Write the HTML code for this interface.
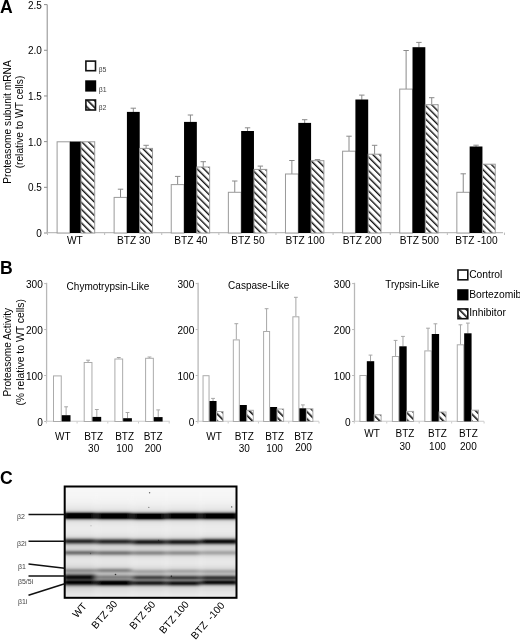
<!DOCTYPE html>
<html><head><meta charset="utf-8"><style>
html,body{margin:0;padding:0;background:#fff;}
svg{display:block;font-family:"Liberation Sans", sans-serif;will-change:transform;}
</style></head><body>
<svg width="520" height="643" viewBox="0 0 520 643" font-family='"Liberation Sans", sans-serif' fill="#000">
<defs>
<pattern id="hatchA" patternUnits="userSpaceOnUse" width="4.8" height="4.8" patternTransform="rotate(-45)">
<rect width="4.8" height="4.8" fill="#fff"/><rect x="0" y="0" width="1.4" height="4.8" fill="#111"/></pattern>
<pattern id="hatchB" patternUnits="userSpaceOnUse" width="5" height="5" patternTransform="rotate(-45)">
<rect width="5" height="5" fill="#fff"/><rect x="0" y="0" width="1.6" height="5" fill="#111"/></pattern>
<pattern id="hatchL" patternUnits="userSpaceOnUse" width="5" height="5" patternTransform="rotate(-45)">
<rect width="5" height="5" fill="#fff"/><rect x="0" y="0" width="1.6" height="5" fill="#111"/></pattern>
<filter id="blur" x="-5%" y="-5%" width="110%" height="110%"><feGaussianBlur stdDeviation="2.4 0.4"/></filter><clipPath id="boxclip"><rect x="64.7" y="486.5" width="171.8" height="111.29999999999995"/></clipPath><linearGradient id="lane0" x1="0" y1="486.5" x2="0" y2="598.5" gradientUnits="userSpaceOnUse"><stop offset="0.0000" stop-color="#f8f8f8"/><stop offset="0.0089" stop-color="#f8f8f8"/><stop offset="0.0179" stop-color="#f7f7f7"/><stop offset="0.0268" stop-color="#f7f7f7"/><stop offset="0.0357" stop-color="#f7f7f7"/><stop offset="0.0446" stop-color="#f7f7f7"/><stop offset="0.0536" stop-color="#f6f6f6"/><stop offset="0.0625" stop-color="#f6f6f6"/><stop offset="0.0714" stop-color="#f6f6f6"/><stop offset="0.0804" stop-color="#f6f6f6"/><stop offset="0.0893" stop-color="#f5f5f5"/><stop offset="0.0982" stop-color="#f5f5f5"/><stop offset="0.1071" stop-color="#f4f4f4"/><stop offset="0.1161" stop-color="#f3f3f3"/><stop offset="0.1250" stop-color="#f3f3f3"/><stop offset="0.1339" stop-color="#f2f2f2"/><stop offset="0.1429" stop-color="#f1f1f1"/><stop offset="0.1518" stop-color="#efefef"/><stop offset="0.1607" stop-color="#eeeeee"/><stop offset="0.1696" stop-color="#ececec"/><stop offset="0.1786" stop-color="#eaeaea"/><stop offset="0.1875" stop-color="#e8e8e8"/><stop offset="0.1964" stop-color="#e5e5e5"/><stop offset="0.2054" stop-color="#e0e0e0"/><stop offset="0.2143" stop-color="#d3d3d3"/><stop offset="0.2232" stop-color="#b3b3b3"/><stop offset="0.2321" stop-color="#747474"/><stop offset="0.2411" stop-color="#141414"/><stop offset="0.2500" stop-color="#000000"/><stop offset="0.2589" stop-color="#000000"/><stop offset="0.2679" stop-color="#000000"/><stop offset="0.2768" stop-color="#000000"/><stop offset="0.2857" stop-color="#3d3d3d"/><stop offset="0.2946" stop-color="#919191"/><stop offset="0.3036" stop-color="#c3c3c3"/><stop offset="0.3125" stop-color="#d9d9d9"/><stop offset="0.3214" stop-color="#e2e2e2"/><stop offset="0.3304" stop-color="#e6e6e6"/><stop offset="0.3393" stop-color="#e8e8e8"/><stop offset="0.3482" stop-color="#e9e9e9"/><stop offset="0.3571" stop-color="#eaeaea"/><stop offset="0.3661" stop-color="#ebebeb"/><stop offset="0.3750" stop-color="#ebebeb"/><stop offset="0.3839" stop-color="#ebebeb"/><stop offset="0.3929" stop-color="#eaeaea"/><stop offset="0.4018" stop-color="#e9e9e9"/><stop offset="0.4107" stop-color="#e8e8e8"/><stop offset="0.4196" stop-color="#e7e7e7"/><stop offset="0.4286" stop-color="#e4e4e4"/><stop offset="0.4375" stop-color="#e0e0e0"/><stop offset="0.4464" stop-color="#d7d7d7"/><stop offset="0.4554" stop-color="#c2c2c2"/><stop offset="0.4643" stop-color="#9b9b9b"/><stop offset="0.4732" stop-color="#666666"/><stop offset="0.4821" stop-color="#393939"/><stop offset="0.4911" stop-color="#2c2c2c"/><stop offset="0.5000" stop-color="#484848"/><stop offset="0.5089" stop-color="#7a7a7a"/><stop offset="0.5179" stop-color="#a8a8a8"/><stop offset="0.5268" stop-color="#c5c5c5"/><stop offset="0.5357" stop-color="#d1d1d1"/><stop offset="0.5446" stop-color="#d5d5d5"/><stop offset="0.5536" stop-color="#d2d2d2"/><stop offset="0.5625" stop-color="#c7c7c7"/><stop offset="0.5714" stop-color="#aeaeae"/><stop offset="0.5804" stop-color="#8b8b8b"/><stop offset="0.5893" stop-color="#737373"/><stop offset="0.5982" stop-color="#7b7b7b"/><stop offset="0.6071" stop-color="#9c9c9c"/><stop offset="0.6161" stop-color="#bfbfbf"/><stop offset="0.6250" stop-color="#d5d5d5"/><stop offset="0.6339" stop-color="#dedede"/><stop offset="0.6429" stop-color="#e2e2e2"/><stop offset="0.6518" stop-color="#e4e4e4"/><stop offset="0.6607" stop-color="#e5e5e5"/><stop offset="0.6696" stop-color="#e5e5e5"/><stop offset="0.6786" stop-color="#e4e4e4"/><stop offset="0.6875" stop-color="#e2e2e2"/><stop offset="0.6964" stop-color="#e0e0e0"/><stop offset="0.7054" stop-color="#dcdcdc"/><stop offset="0.7143" stop-color="#d7d7d7"/><stop offset="0.7232" stop-color="#cecece"/><stop offset="0.7321" stop-color="#bbbbbb"/><stop offset="0.7411" stop-color="#a2a2a2"/><stop offset="0.7500" stop-color="#929292"/><stop offset="0.7589" stop-color="#969696"/><stop offset="0.7679" stop-color="#9f9f9f"/><stop offset="0.7768" stop-color="#959595"/><stop offset="0.7857" stop-color="#717171"/><stop offset="0.7946" stop-color="#3f3f3f"/><stop offset="0.8036" stop-color="#151515"/><stop offset="0.8125" stop-color="#0a0a0a"/><stop offset="0.8214" stop-color="#1d1d1d"/><stop offset="0.8304" stop-color="#333333"/><stop offset="0.8393" stop-color="#2e2e2e"/><stop offset="0.8482" stop-color="#111111"/><stop offset="0.8571" stop-color="#000000"/><stop offset="0.8661" stop-color="#141414"/><stop offset="0.8750" stop-color="#464646"/><stop offset="0.8839" stop-color="#808080"/><stop offset="0.8929" stop-color="#adadad"/><stop offset="0.9018" stop-color="#c7c7c7"/><stop offset="0.9107" stop-color="#d3d3d3"/><stop offset="0.9196" stop-color="#d8d8d8"/><stop offset="0.9286" stop-color="#dbdbdb"/><stop offset="0.9375" stop-color="#dedede"/><stop offset="0.9464" stop-color="#e0e0e0"/><stop offset="0.9554" stop-color="#e3e3e3"/><stop offset="0.9643" stop-color="#e4e4e4"/><stop offset="0.9732" stop-color="#e6e6e6"/><stop offset="0.9821" stop-color="#e7e7e7"/><stop offset="0.9911" stop-color="#e8e8e8"/><stop offset="1.0000" stop-color="#e9e9e9"/></linearGradient><linearGradient id="lane1" x1="0" y1="486.5" x2="0" y2="598.5" gradientUnits="userSpaceOnUse"><stop offset="0.0000" stop-color="#f8f8f8"/><stop offset="0.0089" stop-color="#f8f8f8"/><stop offset="0.0179" stop-color="#f7f7f7"/><stop offset="0.0268" stop-color="#f7f7f7"/><stop offset="0.0357" stop-color="#f7f7f7"/><stop offset="0.0446" stop-color="#f7f7f7"/><stop offset="0.0536" stop-color="#f6f6f6"/><stop offset="0.0625" stop-color="#f6f6f6"/><stop offset="0.0714" stop-color="#f6f6f6"/><stop offset="0.0804" stop-color="#f6f6f6"/><stop offset="0.0893" stop-color="#f5f5f5"/><stop offset="0.0982" stop-color="#f5f5f5"/><stop offset="0.1071" stop-color="#f4f4f4"/><stop offset="0.1161" stop-color="#f4f4f4"/><stop offset="0.1250" stop-color="#f3f3f3"/><stop offset="0.1339" stop-color="#f2f2f2"/><stop offset="0.1429" stop-color="#f1f1f1"/><stop offset="0.1518" stop-color="#f0f0f0"/><stop offset="0.1607" stop-color="#eeeeee"/><stop offset="0.1696" stop-color="#ececec"/><stop offset="0.1786" stop-color="#ebebeb"/><stop offset="0.1875" stop-color="#e9e9e9"/><stop offset="0.1964" stop-color="#e6e6e6"/><stop offset="0.2054" stop-color="#e1e1e1"/><stop offset="0.2143" stop-color="#d7d7d7"/><stop offset="0.2232" stop-color="#bbbbbb"/><stop offset="0.2321" stop-color="#838383"/><stop offset="0.2411" stop-color="#292929"/><stop offset="0.2500" stop-color="#000000"/><stop offset="0.2589" stop-color="#000000"/><stop offset="0.2679" stop-color="#000000"/><stop offset="0.2768" stop-color="#000000"/><stop offset="0.2857" stop-color="#292929"/><stop offset="0.2946" stop-color="#838383"/><stop offset="0.3036" stop-color="#bbbbbb"/><stop offset="0.3125" stop-color="#d6d6d6"/><stop offset="0.3214" stop-color="#e1e1e1"/><stop offset="0.3304" stop-color="#e5e5e5"/><stop offset="0.3393" stop-color="#e7e7e7"/><stop offset="0.3482" stop-color="#e9e9e9"/><stop offset="0.3571" stop-color="#eaeaea"/><stop offset="0.3661" stop-color="#ebebeb"/><stop offset="0.3750" stop-color="#ebebeb"/><stop offset="0.3839" stop-color="#ebebeb"/><stop offset="0.3929" stop-color="#ebebeb"/><stop offset="0.4018" stop-color="#eaeaea"/><stop offset="0.4107" stop-color="#e9e9e9"/><stop offset="0.4196" stop-color="#e7e7e7"/><stop offset="0.4286" stop-color="#e5e5e5"/><stop offset="0.4375" stop-color="#e2e2e2"/><stop offset="0.4464" stop-color="#dbdbdb"/><stop offset="0.4554" stop-color="#cacaca"/><stop offset="0.4643" stop-color="#a9a9a9"/><stop offset="0.4732" stop-color="#777777"/><stop offset="0.4821" stop-color="#444444"/><stop offset="0.4911" stop-color="#2b2b2b"/><stop offset="0.5000" stop-color="#3c3c3c"/><stop offset="0.5089" stop-color="#6a6a6a"/><stop offset="0.5179" stop-color="#9c9c9c"/><stop offset="0.5268" stop-color="#bebebe"/><stop offset="0.5357" stop-color="#cfcfcf"/><stop offset="0.5446" stop-color="#d4d4d4"/><stop offset="0.5536" stop-color="#d3d3d3"/><stop offset="0.5625" stop-color="#cbcbcb"/><stop offset="0.5714" stop-color="#b6b6b6"/><stop offset="0.5804" stop-color="#979797"/><stop offset="0.5893" stop-color="#7d7d7d"/><stop offset="0.5982" stop-color="#7d7d7d"/><stop offset="0.6071" stop-color="#999999"/><stop offset="0.6161" stop-color="#bbbbbb"/><stop offset="0.6250" stop-color="#d2d2d2"/><stop offset="0.6339" stop-color="#dddddd"/><stop offset="0.6429" stop-color="#e2e2e2"/><stop offset="0.6518" stop-color="#e4e4e4"/><stop offset="0.6607" stop-color="#e5e5e5"/><stop offset="0.6696" stop-color="#e5e5e5"/><stop offset="0.6786" stop-color="#e5e5e5"/><stop offset="0.6875" stop-color="#e4e4e4"/><stop offset="0.6964" stop-color="#e2e2e2"/><stop offset="0.7054" stop-color="#dfdfdf"/><stop offset="0.7143" stop-color="#d9d9d9"/><stop offset="0.7232" stop-color="#cccccc"/><stop offset="0.7321" stop-color="#b4b4b4"/><stop offset="0.7411" stop-color="#979797"/><stop offset="0.7500" stop-color="#888888"/><stop offset="0.7589" stop-color="#939393"/><stop offset="0.7679" stop-color="#a9a9a9"/><stop offset="0.7768" stop-color="#b7b7b7"/><stop offset="0.7857" stop-color="#b1b1b1"/><stop offset="0.7946" stop-color="#9d9d9d"/><stop offset="0.8036" stop-color="#878787"/><stop offset="0.8125" stop-color="#808080"/><stop offset="0.8214" stop-color="#868686"/><stop offset="0.8304" stop-color="#7f7f7f"/><stop offset="0.8393" stop-color="#575757"/><stop offset="0.8482" stop-color="#181818"/><stop offset="0.8571" stop-color="#000000"/><stop offset="0.8661" stop-color="#000000"/><stop offset="0.8750" stop-color="#272727"/><stop offset="0.8839" stop-color="#6f6f6f"/><stop offset="0.8929" stop-color="#a9a9a9"/><stop offset="0.9018" stop-color="#c9c9c9"/><stop offset="0.9107" stop-color="#d7d7d7"/><stop offset="0.9196" stop-color="#dcdcdc"/><stop offset="0.9286" stop-color="#dfdfdf"/><stop offset="0.9375" stop-color="#e1e1e1"/><stop offset="0.9464" stop-color="#e3e3e3"/><stop offset="0.9554" stop-color="#e5e5e5"/><stop offset="0.9643" stop-color="#e7e7e7"/><stop offset="0.9732" stop-color="#e8e8e8"/><stop offset="0.9821" stop-color="#e9e9e9"/><stop offset="0.9911" stop-color="#eaeaea"/><stop offset="1.0000" stop-color="#eaeaea"/></linearGradient><linearGradient id="lane2" x1="0" y1="486.5" x2="0" y2="598.5" gradientUnits="userSpaceOnUse"><stop offset="0.0000" stop-color="#f8f8f8"/><stop offset="0.0089" stop-color="#f8f8f8"/><stop offset="0.0179" stop-color="#f7f7f7"/><stop offset="0.0268" stop-color="#f7f7f7"/><stop offset="0.0357" stop-color="#f7f7f7"/><stop offset="0.0446" stop-color="#f7f7f7"/><stop offset="0.0536" stop-color="#f6f6f6"/><stop offset="0.0625" stop-color="#f6f6f6"/><stop offset="0.0714" stop-color="#f6f6f6"/><stop offset="0.0804" stop-color="#f6f6f6"/><stop offset="0.0893" stop-color="#f5f5f5"/><stop offset="0.0982" stop-color="#f5f5f5"/><stop offset="0.1071" stop-color="#f4f4f4"/><stop offset="0.1161" stop-color="#f4f4f4"/><stop offset="0.1250" stop-color="#f3f3f3"/><stop offset="0.1339" stop-color="#f2f2f2"/><stop offset="0.1429" stop-color="#f1f1f1"/><stop offset="0.1518" stop-color="#f0f0f0"/><stop offset="0.1607" stop-color="#efefef"/><stop offset="0.1696" stop-color="#ededed"/><stop offset="0.1786" stop-color="#ebebeb"/><stop offset="0.1875" stop-color="#e9e9e9"/><stop offset="0.1964" stop-color="#e7e7e7"/><stop offset="0.2054" stop-color="#e3e3e3"/><stop offset="0.2143" stop-color="#dbdbdb"/><stop offset="0.2232" stop-color="#c7c7c7"/><stop offset="0.2321" stop-color="#9b9b9b"/><stop offset="0.2411" stop-color="#4e4e4e"/><stop offset="0.2500" stop-color="#000000"/><stop offset="0.2589" stop-color="#000000"/><stop offset="0.2679" stop-color="#000000"/><stop offset="0.2768" stop-color="#000000"/><stop offset="0.2857" stop-color="#141414"/><stop offset="0.2946" stop-color="#717171"/><stop offset="0.3036" stop-color="#b1b1b1"/><stop offset="0.3125" stop-color="#d1d1d1"/><stop offset="0.3214" stop-color="#dfdfdf"/><stop offset="0.3304" stop-color="#e4e4e4"/><stop offset="0.3393" stop-color="#e7e7e7"/><stop offset="0.3482" stop-color="#e8e8e8"/><stop offset="0.3571" stop-color="#eaeaea"/><stop offset="0.3661" stop-color="#eaeaea"/><stop offset="0.3750" stop-color="#ebebeb"/><stop offset="0.3839" stop-color="#ebebeb"/><stop offset="0.3929" stop-color="#ebebeb"/><stop offset="0.4018" stop-color="#eaeaea"/><stop offset="0.4107" stop-color="#e9e9e9"/><stop offset="0.4196" stop-color="#e8e8e8"/><stop offset="0.4286" stop-color="#e6e6e6"/><stop offset="0.4375" stop-color="#e3e3e3"/><stop offset="0.4464" stop-color="#dedede"/><stop offset="0.4554" stop-color="#d1d1d1"/><stop offset="0.4643" stop-color="#b5b5b5"/><stop offset="0.4732" stop-color="#868686"/><stop offset="0.4821" stop-color="#4d4d4d"/><stop offset="0.4911" stop-color="#242424"/><stop offset="0.5000" stop-color="#242424"/><stop offset="0.5089" stop-color="#4c4c4c"/><stop offset="0.5179" stop-color="#838383"/><stop offset="0.5268" stop-color="#afafaf"/><stop offset="0.5357" stop-color="#c8c8c8"/><stop offset="0.5446" stop-color="#d2d2d2"/><stop offset="0.5536" stop-color="#d3d3d3"/><stop offset="0.5625" stop-color="#cccccc"/><stop offset="0.5714" stop-color="#bcbcbc"/><stop offset="0.5804" stop-color="#a2a2a2"/><stop offset="0.5893" stop-color="#8d8d8d"/><stop offset="0.5982" stop-color="#8e8e8e"/><stop offset="0.6071" stop-color="#a5a5a5"/><stop offset="0.6161" stop-color="#c1c1c1"/><stop offset="0.6250" stop-color="#d5d5d5"/><stop offset="0.6339" stop-color="#dedede"/><stop offset="0.6429" stop-color="#e3e3e3"/><stop offset="0.6518" stop-color="#e5e5e5"/><stop offset="0.6607" stop-color="#e7e7e7"/><stop offset="0.6696" stop-color="#e8e8e8"/><stop offset="0.6786" stop-color="#e8e8e8"/><stop offset="0.6875" stop-color="#e7e7e7"/><stop offset="0.6964" stop-color="#e6e6e6"/><stop offset="0.7054" stop-color="#e3e3e3"/><stop offset="0.7143" stop-color="#e0e0e0"/><stop offset="0.7232" stop-color="#dbdbdb"/><stop offset="0.7321" stop-color="#d3d3d3"/><stop offset="0.7411" stop-color="#c4c4c4"/><stop offset="0.7500" stop-color="#b1b1b1"/><stop offset="0.7589" stop-color="#a6a6a6"/><stop offset="0.7679" stop-color="#aaaaaa"/><stop offset="0.7768" stop-color="#b2b2b2"/><stop offset="0.7857" stop-color="#aaaaaa"/><stop offset="0.7946" stop-color="#898989"/><stop offset="0.8036" stop-color="#5d5d5d"/><stop offset="0.8125" stop-color="#454545"/><stop offset="0.8214" stop-color="#525252"/><stop offset="0.8304" stop-color="#6d6d6d"/><stop offset="0.8393" stop-color="#6c6c6c"/><stop offset="0.8482" stop-color="#474747"/><stop offset="0.8571" stop-color="#212121"/><stop offset="0.8661" stop-color="#222222"/><stop offset="0.8750" stop-color="#4d4d4d"/><stop offset="0.8839" stop-color="#888888"/><stop offset="0.8929" stop-color="#b6b6b6"/><stop offset="0.9018" stop-color="#cfcfcf"/><stop offset="0.9107" stop-color="#d9d9d9"/><stop offset="0.9196" stop-color="#dddddd"/><stop offset="0.9286" stop-color="#dfdfdf"/><stop offset="0.9375" stop-color="#e2e2e2"/><stop offset="0.9464" stop-color="#e4e4e4"/><stop offset="0.9554" stop-color="#e6e6e6"/><stop offset="0.9643" stop-color="#e7e7e7"/><stop offset="0.9732" stop-color="#e8e8e8"/><stop offset="0.9821" stop-color="#e9e9e9"/><stop offset="0.9911" stop-color="#eaeaea"/><stop offset="1.0000" stop-color="#eaeaea"/></linearGradient><linearGradient id="lane3" x1="0" y1="486.5" x2="0" y2="598.5" gradientUnits="userSpaceOnUse"><stop offset="0.0000" stop-color="#f8f8f8"/><stop offset="0.0089" stop-color="#f8f8f8"/><stop offset="0.0179" stop-color="#f7f7f7"/><stop offset="0.0268" stop-color="#f7f7f7"/><stop offset="0.0357" stop-color="#f7f7f7"/><stop offset="0.0446" stop-color="#f7f7f7"/><stop offset="0.0536" stop-color="#f6f6f6"/><stop offset="0.0625" stop-color="#f6f6f6"/><stop offset="0.0714" stop-color="#f6f6f6"/><stop offset="0.0804" stop-color="#f6f6f6"/><stop offset="0.0893" stop-color="#f5f5f5"/><stop offset="0.0982" stop-color="#f5f5f5"/><stop offset="0.1071" stop-color="#f4f4f4"/><stop offset="0.1161" stop-color="#f4f4f4"/><stop offset="0.1250" stop-color="#f3f3f3"/><stop offset="0.1339" stop-color="#f2f2f2"/><stop offset="0.1429" stop-color="#f1f1f1"/><stop offset="0.1518" stop-color="#f0f0f0"/><stop offset="0.1607" stop-color="#eeeeee"/><stop offset="0.1696" stop-color="#ececec"/><stop offset="0.1786" stop-color="#ebebeb"/><stop offset="0.1875" stop-color="#e9e9e9"/><stop offset="0.1964" stop-color="#e6e6e6"/><stop offset="0.2054" stop-color="#e2e2e2"/><stop offset="0.2143" stop-color="#d7d7d7"/><stop offset="0.2232" stop-color="#bdbdbd"/><stop offset="0.2321" stop-color="#888888"/><stop offset="0.2411" stop-color="#323232"/><stop offset="0.2500" stop-color="#000000"/><stop offset="0.2589" stop-color="#000000"/><stop offset="0.2679" stop-color="#000000"/><stop offset="0.2768" stop-color="#000000"/><stop offset="0.2857" stop-color="#323232"/><stop offset="0.2946" stop-color="#888888"/><stop offset="0.3036" stop-color="#bdbdbd"/><stop offset="0.3125" stop-color="#d7d7d7"/><stop offset="0.3214" stop-color="#e1e1e1"/><stop offset="0.3304" stop-color="#e5e5e5"/><stop offset="0.3393" stop-color="#e7e7e7"/><stop offset="0.3482" stop-color="#e9e9e9"/><stop offset="0.3571" stop-color="#eaeaea"/><stop offset="0.3661" stop-color="#ebebeb"/><stop offset="0.3750" stop-color="#ebebeb"/><stop offset="0.3839" stop-color="#ebebeb"/><stop offset="0.3929" stop-color="#ebebeb"/><stop offset="0.4018" stop-color="#eaeaea"/><stop offset="0.4107" stop-color="#e9e9e9"/><stop offset="0.4196" stop-color="#e8e8e8"/><stop offset="0.4286" stop-color="#e6e6e6"/><stop offset="0.4375" stop-color="#e3e3e3"/><stop offset="0.4464" stop-color="#dedede"/><stop offset="0.4554" stop-color="#d1d1d1"/><stop offset="0.4643" stop-color="#b5b5b5"/><stop offset="0.4732" stop-color="#858585"/><stop offset="0.4821" stop-color="#4c4c4c"/><stop offset="0.4911" stop-color="#232323"/><stop offset="0.5000" stop-color="#222222"/><stop offset="0.5089" stop-color="#4b4b4b"/><stop offset="0.5179" stop-color="#828282"/><stop offset="0.5268" stop-color="#afafaf"/><stop offset="0.5357" stop-color="#c8c8c8"/><stop offset="0.5446" stop-color="#d2d2d2"/><stop offset="0.5536" stop-color="#d3d3d3"/><stop offset="0.5625" stop-color="#cdcdcd"/><stop offset="0.5714" stop-color="#bebebe"/><stop offset="0.5804" stop-color="#a7a7a7"/><stop offset="0.5893" stop-color="#949494"/><stop offset="0.5982" stop-color="#959595"/><stop offset="0.6071" stop-color="#aaaaaa"/><stop offset="0.6161" stop-color="#c4c4c4"/><stop offset="0.6250" stop-color="#d6d6d6"/><stop offset="0.6339" stop-color="#dfdfdf"/><stop offset="0.6429" stop-color="#e3e3e3"/><stop offset="0.6518" stop-color="#e5e5e5"/><stop offset="0.6607" stop-color="#e6e6e6"/><stop offset="0.6696" stop-color="#e7e7e7"/><stop offset="0.6786" stop-color="#e7e7e7"/><stop offset="0.6875" stop-color="#e7e7e7"/><stop offset="0.6964" stop-color="#e5e5e5"/><stop offset="0.7054" stop-color="#e3e3e3"/><stop offset="0.7143" stop-color="#dfdfdf"/><stop offset="0.7232" stop-color="#dadada"/><stop offset="0.7321" stop-color="#d0d0d0"/><stop offset="0.7411" stop-color="#bfbfbf"/><stop offset="0.7500" stop-color="#adadad"/><stop offset="0.7589" stop-color="#a7a7a7"/><stop offset="0.7679" stop-color="#b0b0b0"/><stop offset="0.7768" stop-color="#b9b9b9"/><stop offset="0.7857" stop-color="#b1b1b1"/><stop offset="0.7946" stop-color="#919191"/><stop offset="0.8036" stop-color="#636363"/><stop offset="0.8125" stop-color="#434343"/><stop offset="0.8214" stop-color="#494949"/><stop offset="0.8304" stop-color="#676767"/><stop offset="0.8393" stop-color="#6e6e6e"/><stop offset="0.8482" stop-color="#4b4b4b"/><stop offset="0.8571" stop-color="#202020"/><stop offset="0.8661" stop-color="#171717"/><stop offset="0.8750" stop-color="#3c3c3c"/><stop offset="0.8839" stop-color="#797979"/><stop offset="0.8929" stop-color="#adadad"/><stop offset="0.9018" stop-color="#cbcbcb"/><stop offset="0.9107" stop-color="#d7d7d7"/><stop offset="0.9196" stop-color="#dcdcdc"/><stop offset="0.9286" stop-color="#dfdfdf"/><stop offset="0.9375" stop-color="#e1e1e1"/><stop offset="0.9464" stop-color="#e3e3e3"/><stop offset="0.9554" stop-color="#e5e5e5"/><stop offset="0.9643" stop-color="#e7e7e7"/><stop offset="0.9732" stop-color="#e8e8e8"/><stop offset="0.9821" stop-color="#e9e9e9"/><stop offset="0.9911" stop-color="#eaeaea"/><stop offset="1.0000" stop-color="#eaeaea"/></linearGradient><linearGradient id="lane4" x1="0" y1="486.5" x2="0" y2="598.5" gradientUnits="userSpaceOnUse"><stop offset="0.0000" stop-color="#f8f8f8"/><stop offset="0.0089" stop-color="#f8f8f8"/><stop offset="0.0179" stop-color="#f7f7f7"/><stop offset="0.0268" stop-color="#f7f7f7"/><stop offset="0.0357" stop-color="#f7f7f7"/><stop offset="0.0446" stop-color="#f7f7f7"/><stop offset="0.0536" stop-color="#f6f6f6"/><stop offset="0.0625" stop-color="#f6f6f6"/><stop offset="0.0714" stop-color="#f6f6f6"/><stop offset="0.0804" stop-color="#f6f6f6"/><stop offset="0.0893" stop-color="#f5f5f5"/><stop offset="0.0982" stop-color="#f5f5f5"/><stop offset="0.1071" stop-color="#f4f4f4"/><stop offset="0.1161" stop-color="#f4f4f4"/><stop offset="0.1250" stop-color="#f3f3f3"/><stop offset="0.1339" stop-color="#f2f2f2"/><stop offset="0.1429" stop-color="#f1f1f1"/><stop offset="0.1518" stop-color="#f0f0f0"/><stop offset="0.1607" stop-color="#eeeeee"/><stop offset="0.1696" stop-color="#ececec"/><stop offset="0.1786" stop-color="#ebebeb"/><stop offset="0.1875" stop-color="#e9e9e9"/><stop offset="0.1964" stop-color="#e6e6e6"/><stop offset="0.2054" stop-color="#e2e2e2"/><stop offset="0.2143" stop-color="#d7d7d7"/><stop offset="0.2232" stop-color="#bdbdbd"/><stop offset="0.2321" stop-color="#888888"/><stop offset="0.2411" stop-color="#323232"/><stop offset="0.2500" stop-color="#000000"/><stop offset="0.2589" stop-color="#000000"/><stop offset="0.2679" stop-color="#000000"/><stop offset="0.2768" stop-color="#000000"/><stop offset="0.2857" stop-color="#323232"/><stop offset="0.2946" stop-color="#888888"/><stop offset="0.3036" stop-color="#bdbdbd"/><stop offset="0.3125" stop-color="#d7d7d7"/><stop offset="0.3214" stop-color="#e1e1e1"/><stop offset="0.3304" stop-color="#e5e5e5"/><stop offset="0.3393" stop-color="#e7e7e7"/><stop offset="0.3482" stop-color="#e9e9e9"/><stop offset="0.3571" stop-color="#eaeaea"/><stop offset="0.3661" stop-color="#eaeaea"/><stop offset="0.3750" stop-color="#ebebeb"/><stop offset="0.3839" stop-color="#ebebeb"/><stop offset="0.3929" stop-color="#eaeaea"/><stop offset="0.4018" stop-color="#eaeaea"/><stop offset="0.4107" stop-color="#e8e8e8"/><stop offset="0.4196" stop-color="#e7e7e7"/><stop offset="0.4286" stop-color="#e5e5e5"/><stop offset="0.4375" stop-color="#e1e1e1"/><stop offset="0.4464" stop-color="#d8d8d8"/><stop offset="0.4554" stop-color="#c2c2c2"/><stop offset="0.4643" stop-color="#989898"/><stop offset="0.4732" stop-color="#5b5b5b"/><stop offset="0.4821" stop-color="#202020"/><stop offset="0.4911" stop-color="#070707"/><stop offset="0.5000" stop-color="#202020"/><stop offset="0.5089" stop-color="#5a5a5a"/><stop offset="0.5179" stop-color="#949494"/><stop offset="0.5268" stop-color="#bbbbbb"/><stop offset="0.5357" stop-color="#cecece"/><stop offset="0.5446" stop-color="#d4d4d4"/><stop offset="0.5536" stop-color="#d4d4d4"/><stop offset="0.5625" stop-color="#cfcfcf"/><stop offset="0.5714" stop-color="#c3c3c3"/><stop offset="0.5804" stop-color="#b2b2b2"/><stop offset="0.5893" stop-color="#a7a7a7"/><stop offset="0.5982" stop-color="#ababab"/><stop offset="0.6071" stop-color="#bcbcbc"/><stop offset="0.6161" stop-color="#cecece"/><stop offset="0.6250" stop-color="#dadada"/><stop offset="0.6339" stop-color="#e0e0e0"/><stop offset="0.6429" stop-color="#e4e4e4"/><stop offset="0.6518" stop-color="#e6e6e6"/><stop offset="0.6607" stop-color="#e7e7e7"/><stop offset="0.6696" stop-color="#e8e8e8"/><stop offset="0.6786" stop-color="#e8e8e8"/><stop offset="0.6875" stop-color="#e7e7e7"/><stop offset="0.6964" stop-color="#e6e6e6"/><stop offset="0.7054" stop-color="#e3e3e3"/><stop offset="0.7143" stop-color="#e0e0e0"/><stop offset="0.7232" stop-color="#dbdbdb"/><stop offset="0.7321" stop-color="#d3d3d3"/><stop offset="0.7411" stop-color="#c4c4c4"/><stop offset="0.7500" stop-color="#b2b2b2"/><stop offset="0.7589" stop-color="#a9a9a9"/><stop offset="0.7679" stop-color="#aeaeae"/><stop offset="0.7768" stop-color="#b6b6b6"/><stop offset="0.7857" stop-color="#adadad"/><stop offset="0.7946" stop-color="#8c8c8c"/><stop offset="0.8036" stop-color="#5a5a5a"/><stop offset="0.8125" stop-color="#373737"/><stop offset="0.8214" stop-color="#3b3b3b"/><stop offset="0.8304" stop-color="#4f4f4f"/><stop offset="0.8393" stop-color="#454545"/><stop offset="0.8482" stop-color="#1f1f1f"/><stop offset="0.8571" stop-color="#0e0e0e"/><stop offset="0.8661" stop-color="#2c2c2c"/><stop offset="0.8750" stop-color="#686868"/><stop offset="0.8839" stop-color="#a2a2a2"/><stop offset="0.8929" stop-color="#c6c6c6"/><stop offset="0.9018" stop-color="#d6d6d6"/><stop offset="0.9107" stop-color="#dcdcdc"/><stop offset="0.9196" stop-color="#dedede"/><stop offset="0.9286" stop-color="#e0e0e0"/><stop offset="0.9375" stop-color="#e3e3e3"/><stop offset="0.9464" stop-color="#e5e5e5"/><stop offset="0.9554" stop-color="#e6e6e6"/><stop offset="0.9643" stop-color="#e8e8e8"/><stop offset="0.9732" stop-color="#e9e9e9"/><stop offset="0.9821" stop-color="#eaeaea"/><stop offset="0.9911" stop-color="#eaeaea"/><stop offset="1.0000" stop-color="#ebebeb"/></linearGradient>
</defs>
<rect width="520" height="643" fill="#fff"/>
<text x="0" y="12.6" font-size="17.6" font-weight="bold">A</text>
<line x1="47.2" y1="4.6" x2="47.2" y2="233.0" stroke="#8c8c8c" stroke-width="1"/>
<line x1="44.0" y1="233.00" x2="47.2" y2="233.00" stroke="#8c8c8c" stroke-width="1"/>
<text x="41.8" y="237.10" font-size="10" text-anchor="end">0</text>
<line x1="44.0" y1="187.32" x2="47.2" y2="187.32" stroke="#8c8c8c" stroke-width="1"/>
<text x="41.8" y="191.42" font-size="10" text-anchor="end">0.5</text>
<line x1="44.0" y1="141.64" x2="47.2" y2="141.64" stroke="#8c8c8c" stroke-width="1"/>
<text x="41.8" y="145.74" font-size="10" text-anchor="end">1.0</text>
<line x1="44.0" y1="95.96" x2="47.2" y2="95.96" stroke="#8c8c8c" stroke-width="1"/>
<text x="41.8" y="100.06" font-size="10" text-anchor="end">1.5</text>
<line x1="44.0" y1="50.28" x2="47.2" y2="50.28" stroke="#8c8c8c" stroke-width="1"/>
<text x="41.8" y="54.38" font-size="10" text-anchor="end">2.0</text>
<line x1="44.0" y1="4.60" x2="47.2" y2="4.60" stroke="#8c8c8c" stroke-width="1"/>
<text x="41.8" y="8.70" font-size="10" text-anchor="end">2.5</text>
<line x1="47.2" y1="232.6" x2="503" y2="232.6" stroke="#bdbdbd" stroke-width="1.1"/>
<line x1="47.50" y1="232.6" x2="47.50" y2="235" stroke="#bdbdbd" stroke-width="1"/>
<line x1="104.62" y1="232.6" x2="104.62" y2="235" stroke="#bdbdbd" stroke-width="1"/>
<line x1="161.74" y1="232.6" x2="161.74" y2="235" stroke="#bdbdbd" stroke-width="1"/>
<line x1="218.86" y1="232.6" x2="218.86" y2="235" stroke="#bdbdbd" stroke-width="1"/>
<line x1="275.98" y1="232.6" x2="275.98" y2="235" stroke="#bdbdbd" stroke-width="1"/>
<line x1="333.10" y1="232.6" x2="333.10" y2="235" stroke="#bdbdbd" stroke-width="1"/>
<line x1="390.22" y1="232.6" x2="390.22" y2="235" stroke="#bdbdbd" stroke-width="1"/>
<line x1="447.34" y1="232.6" x2="447.34" y2="235" stroke="#bdbdbd" stroke-width="1"/>
<line x1="504.46" y1="232.6" x2="504.46" y2="235" stroke="#bdbdbd" stroke-width="1"/>
<text transform="translate(11.2,122) rotate(-90)" font-size="10.2" text-anchor="middle">Proteasome subunit mRNA</text>
<text transform="translate(23.4,122) rotate(-90)" font-size="10.2" text-anchor="middle">(relative to WT cells)</text>
<rect x="57.10" y="141.80" width="12.80" height="91.20" fill="#fff" stroke="#9a9a9a" stroke-width="1"/>
<rect x="69.90" y="141.50" width="11.10" height="91.50" fill="#000"/>
<rect x="81.00" y="141.80" width="13.70" height="91.20" fill="url(#hatchA)" stroke="#9a9a9a" stroke-width="1"/>
<text x="74.90" y="244.0" font-size="10.2" text-anchor="middle">WT</text>
<line x1="120.52" y1="197.40" x2="120.52" y2="189.20" stroke="#8a8a8a" stroke-width="1"/>
<line x1="117.82" y1="189.20" x2="123.22" y2="189.20" stroke="#8a8a8a" stroke-width="1"/>
<rect x="114.12" y="197.40" width="12.80" height="35.60" fill="#fff" stroke="#9a9a9a" stroke-width="1"/>
<line x1="133.32" y1="112.20" x2="133.32" y2="108.20" stroke="#8a8a8a" stroke-width="1"/>
<line x1="130.62" y1="108.20" x2="136.02" y2="108.20" stroke="#8a8a8a" stroke-width="1"/>
<rect x="126.92" y="111.90" width="12.80" height="121.10" fill="#000"/>
<line x1="146.12" y1="148.40" x2="146.12" y2="145.30" stroke="#8a8a8a" stroke-width="1"/>
<line x1="143.42" y1="145.30" x2="148.82" y2="145.30" stroke="#8a8a8a" stroke-width="1"/>
<rect x="139.72" y="148.40" width="12.80" height="84.60" fill="url(#hatchA)" stroke="#9a9a9a" stroke-width="1"/>
<text x="133.72" y="244.0" font-size="10.2" text-anchor="middle">BTZ 30</text>
<line x1="177.64" y1="184.60" x2="177.64" y2="176.40" stroke="#8a8a8a" stroke-width="1"/>
<line x1="174.94" y1="176.40" x2="180.34" y2="176.40" stroke="#8a8a8a" stroke-width="1"/>
<rect x="171.24" y="184.60" width="12.80" height="48.40" fill="#fff" stroke="#9a9a9a" stroke-width="1"/>
<line x1="190.44" y1="122.20" x2="190.44" y2="115.00" stroke="#8a8a8a" stroke-width="1"/>
<line x1="187.74" y1="115.00" x2="193.14" y2="115.00" stroke="#8a8a8a" stroke-width="1"/>
<rect x="184.04" y="121.90" width="12.80" height="111.10" fill="#000"/>
<line x1="203.24" y1="167.00" x2="203.24" y2="161.70" stroke="#8a8a8a" stroke-width="1"/>
<line x1="200.54" y1="161.70" x2="205.94" y2="161.70" stroke="#8a8a8a" stroke-width="1"/>
<rect x="196.84" y="167.00" width="12.80" height="66.00" fill="url(#hatchA)" stroke="#9a9a9a" stroke-width="1"/>
<text x="190.84" y="244.0" font-size="10.2" text-anchor="middle">BTZ 40</text>
<line x1="234.76" y1="192.30" x2="234.76" y2="181.00" stroke="#8a8a8a" stroke-width="1"/>
<line x1="232.06" y1="181.00" x2="237.46" y2="181.00" stroke="#8a8a8a" stroke-width="1"/>
<rect x="228.36" y="192.30" width="12.80" height="40.70" fill="#fff" stroke="#9a9a9a" stroke-width="1"/>
<line x1="247.56" y1="131.30" x2="247.56" y2="127.80" stroke="#8a8a8a" stroke-width="1"/>
<line x1="244.86" y1="127.80" x2="250.26" y2="127.80" stroke="#8a8a8a" stroke-width="1"/>
<rect x="241.16" y="131.00" width="12.80" height="102.00" fill="#000"/>
<line x1="260.36" y1="169.40" x2="260.36" y2="166.10" stroke="#8a8a8a" stroke-width="1"/>
<line x1="257.66" y1="166.10" x2="263.06" y2="166.10" stroke="#8a8a8a" stroke-width="1"/>
<rect x="253.96" y="169.40" width="12.80" height="63.60" fill="url(#hatchA)" stroke="#9a9a9a" stroke-width="1"/>
<text x="247.96" y="244.0" font-size="10.2" text-anchor="middle">BTZ 50</text>
<line x1="291.88" y1="174.00" x2="291.88" y2="160.50" stroke="#8a8a8a" stroke-width="1"/>
<line x1="289.18" y1="160.50" x2="294.58" y2="160.50" stroke="#8a8a8a" stroke-width="1"/>
<rect x="285.48" y="174.00" width="12.80" height="59.00" fill="#fff" stroke="#9a9a9a" stroke-width="1"/>
<line x1="304.68" y1="123.20" x2="304.68" y2="119.70" stroke="#8a8a8a" stroke-width="1"/>
<line x1="301.98" y1="119.70" x2="307.38" y2="119.70" stroke="#8a8a8a" stroke-width="1"/>
<rect x="298.28" y="122.90" width="12.80" height="110.10" fill="#000"/>
<line x1="317.48" y1="160.70" x2="317.48" y2="159.60" stroke="#8a8a8a" stroke-width="1"/>
<line x1="314.78" y1="159.60" x2="320.18" y2="159.60" stroke="#8a8a8a" stroke-width="1"/>
<rect x="311.08" y="160.70" width="12.80" height="72.30" fill="url(#hatchA)" stroke="#9a9a9a" stroke-width="1"/>
<text x="305.08" y="244.0" font-size="10.2" text-anchor="middle">BTZ 100</text>
<line x1="349.00" y1="151.20" x2="349.00" y2="136.20" stroke="#8a8a8a" stroke-width="1"/>
<line x1="346.30" y1="136.20" x2="351.70" y2="136.20" stroke="#8a8a8a" stroke-width="1"/>
<rect x="342.60" y="151.20" width="12.80" height="81.80" fill="#fff" stroke="#9a9a9a" stroke-width="1"/>
<line x1="361.80" y1="99.80" x2="361.80" y2="95.10" stroke="#8a8a8a" stroke-width="1"/>
<line x1="359.10" y1="95.10" x2="364.50" y2="95.10" stroke="#8a8a8a" stroke-width="1"/>
<rect x="355.40" y="99.50" width="12.80" height="133.50" fill="#000"/>
<line x1="374.60" y1="154.20" x2="374.60" y2="145.30" stroke="#8a8a8a" stroke-width="1"/>
<line x1="371.90" y1="145.30" x2="377.30" y2="145.30" stroke="#8a8a8a" stroke-width="1"/>
<rect x="368.20" y="154.20" width="12.80" height="78.80" fill="url(#hatchA)" stroke="#9a9a9a" stroke-width="1"/>
<text x="362.20" y="244.0" font-size="10.2" text-anchor="middle">BTZ 200</text>
<line x1="406.12" y1="89.10" x2="406.12" y2="50.50" stroke="#8a8a8a" stroke-width="1"/>
<line x1="403.42" y1="50.50" x2="408.82" y2="50.50" stroke="#8a8a8a" stroke-width="1"/>
<rect x="399.72" y="89.10" width="12.80" height="143.90" fill="#fff" stroke="#9a9a9a" stroke-width="1"/>
<line x1="418.92" y1="47.50" x2="418.92" y2="42.40" stroke="#8a8a8a" stroke-width="1"/>
<line x1="416.22" y1="42.40" x2="421.62" y2="42.40" stroke="#8a8a8a" stroke-width="1"/>
<rect x="412.52" y="47.20" width="12.80" height="185.80" fill="#000"/>
<line x1="431.72" y1="104.70" x2="431.72" y2="97.70" stroke="#8a8a8a" stroke-width="1"/>
<line x1="429.02" y1="97.70" x2="434.42" y2="97.70" stroke="#8a8a8a" stroke-width="1"/>
<rect x="425.32" y="104.70" width="12.80" height="128.30" fill="url(#hatchA)" stroke="#9a9a9a" stroke-width="1"/>
<text x="419.32" y="244.0" font-size="10.2" text-anchor="middle">BTZ 500</text>
<line x1="463.24" y1="192.30" x2="463.24" y2="173.80" stroke="#8a8a8a" stroke-width="1"/>
<line x1="460.54" y1="173.80" x2="465.94" y2="173.80" stroke="#8a8a8a" stroke-width="1"/>
<rect x="456.84" y="192.30" width="12.80" height="40.70" fill="#fff" stroke="#9a9a9a" stroke-width="1"/>
<line x1="476.04" y1="146.80" x2="476.04" y2="145.20" stroke="#8a8a8a" stroke-width="1"/>
<line x1="473.34" y1="145.20" x2="478.74" y2="145.20" stroke="#8a8a8a" stroke-width="1"/>
<rect x="469.64" y="146.50" width="12.80" height="86.50" fill="#000"/>
<rect x="482.44" y="164.20" width="12.80" height="68.80" fill="url(#hatchA)" stroke="#9a9a9a" stroke-width="1"/>
<text x="476.44" y="244.0" font-size="10.2" text-anchor="middle">BTZ -100</text>
<rect x="85.9" y="61.1" width="9.6" height="9.6" fill="#fff" stroke="#111" stroke-width="1.6"/>
<rect x="85.2" y="80.3" width="11" height="11.3" fill="#000"/>
<rect x="85.9" y="100" width="9.6" height="10" fill="url(#hatchL)" stroke="#111" stroke-width="1.6"/>
<text x="98.4" y="72.2" font-size="7" fill="#444">β5</text>
<text x="98.8" y="92" font-size="7" fill="#444">β1</text>
<text x="98.4" y="110.2" font-size="7" fill="#444">β2</text>
<text x="0" y="274.4" font-size="17.6" font-weight="bold">B</text>
<text transform="translate(11.4,352.3) rotate(-90)" font-size="10.1" text-anchor="middle">Proteasome Activity</text>
<text transform="translate(23.6,352.3) rotate(-90)" font-size="10.4" text-anchor="middle">(% relative to WT cells)</text>
<line x1="46.6" y1="282.79" x2="46.6" y2="421.5" stroke="#b8b8b8" stroke-width="1.3"/>
<line x1="44.199999999999996" y1="421.50" x2="46.4" y2="421.50" stroke="#b8b8b8" stroke-width="1"/>
<text x="42.80" y="425.80" font-size="10.1" text-anchor="end">0</text>
<line x1="44.199999999999996" y1="375.53" x2="46.4" y2="375.53" stroke="#b8b8b8" stroke-width="1"/>
<text x="42.80" y="379.83" font-size="10.1" text-anchor="end">100</text>
<line x1="44.199999999999996" y1="329.56" x2="46.4" y2="329.56" stroke="#b8b8b8" stroke-width="1"/>
<text x="42.80" y="333.86" font-size="10.1" text-anchor="end">200</text>
<line x1="44.199999999999996" y1="283.59" x2="46.4" y2="283.59" stroke="#b8b8b8" stroke-width="1"/>
<text x="42.80" y="287.89" font-size="10.1" text-anchor="end">300</text>
<line x1="46.4" y1="421.3" x2="169.8" y2="421.3" stroke="#cccccc" stroke-width="1.1"/>
<line x1="46.40" y1="421.5" x2="46.40" y2="423.5" stroke="#cccccc" stroke-width="1"/>
<line x1="77.10" y1="421.5" x2="77.10" y2="423.5" stroke="#cccccc" stroke-width="1"/>
<line x1="107.80" y1="421.5" x2="107.80" y2="423.5" stroke="#cccccc" stroke-width="1"/>
<line x1="138.50" y1="421.5" x2="138.50" y2="423.5" stroke="#cccccc" stroke-width="1"/>
<line x1="169.20" y1="421.5" x2="169.20" y2="423.5" stroke="#cccccc" stroke-width="1"/>
<text x="66.6" y="289.8" font-size="10">Chymotrypsin-Like</text>
<rect x="53.50" y="375.90" width="7.75" height="45.60" fill="#fff" stroke="#ababab" stroke-width="1"/>
<line x1="66.12" y1="415.20" x2="66.12" y2="406.80" stroke="#a6a6a6" stroke-width="1"/>
<line x1="64.22" y1="406.80" x2="68.03" y2="406.80" stroke="#a6a6a6" stroke-width="1"/>
<rect x="61.75" y="415.20" width="8.75" height="6.30" fill="#000"/>
<text x="62.75" y="439.6" font-size="10" text-anchor="middle">WT</text>
<line x1="88.07" y1="362.00" x2="88.07" y2="360.20" stroke="#a6a6a6" stroke-width="1"/>
<line x1="86.17" y1="360.20" x2="89.97" y2="360.20" stroke="#a6a6a6" stroke-width="1"/>
<rect x="84.20" y="362.50" width="7.75" height="59.00" fill="#fff" stroke="#ababab" stroke-width="1"/>
<line x1="96.82" y1="416.90" x2="96.82" y2="409.50" stroke="#a6a6a6" stroke-width="1"/>
<line x1="94.92" y1="409.50" x2="98.72" y2="409.50" stroke="#a6a6a6" stroke-width="1"/>
<rect x="92.45" y="416.90" width="8.75" height="4.60" fill="#000"/>
<text x="93.65" y="439.6" font-size="10" text-anchor="middle">BTZ</text>
<text x="93.65" y="452" font-size="10" text-anchor="middle">30</text>
<line x1="118.78" y1="358.50" x2="118.78" y2="357.50" stroke="#a6a6a6" stroke-width="1"/>
<line x1="116.88" y1="357.50" x2="120.68" y2="357.50" stroke="#a6a6a6" stroke-width="1"/>
<rect x="114.90" y="359.00" width="7.75" height="62.50" fill="#fff" stroke="#ababab" stroke-width="1"/>
<line x1="127.53" y1="418.20" x2="127.53" y2="412.50" stroke="#a6a6a6" stroke-width="1"/>
<line x1="125.62" y1="412.50" x2="129.43" y2="412.50" stroke="#a6a6a6" stroke-width="1"/>
<rect x="123.15" y="418.20" width="8.75" height="3.30" fill="#000"/>
<text x="124.65" y="439.6" font-size="10" text-anchor="middle">BTZ</text>
<text x="124.65" y="452" font-size="10" text-anchor="middle">100</text>
<line x1="149.47" y1="357.80" x2="149.47" y2="357.00" stroke="#a6a6a6" stroke-width="1"/>
<line x1="147.57" y1="357.00" x2="151.38" y2="357.00" stroke="#a6a6a6" stroke-width="1"/>
<rect x="145.60" y="358.30" width="7.75" height="63.20" fill="#fff" stroke="#ababab" stroke-width="1"/>
<line x1="158.22" y1="417.10" x2="158.22" y2="409.90" stroke="#a6a6a6" stroke-width="1"/>
<line x1="156.32" y1="409.90" x2="160.12" y2="409.90" stroke="#a6a6a6" stroke-width="1"/>
<rect x="153.85" y="417.10" width="8.75" height="4.40" fill="#000"/>
<text x="153.10" y="439.6" font-size="10" text-anchor="middle">BTZ</text>
<text x="153.10" y="451.6" font-size="10" text-anchor="middle">200</text>
<line x1="198.1" y1="282.79" x2="198.1" y2="421.5" stroke="#b8b8b8" stroke-width="1.3"/>
<line x1="195.70000000000002" y1="421.50" x2="197.9" y2="421.50" stroke="#b8b8b8" stroke-width="1"/>
<text x="194.30" y="425.80" font-size="10.1" text-anchor="end">0</text>
<line x1="195.70000000000002" y1="375.53" x2="197.9" y2="375.53" stroke="#b8b8b8" stroke-width="1"/>
<text x="194.30" y="379.83" font-size="10.1" text-anchor="end">100</text>
<line x1="195.70000000000002" y1="329.56" x2="197.9" y2="329.56" stroke="#b8b8b8" stroke-width="1"/>
<text x="194.30" y="333.86" font-size="10.1" text-anchor="end">200</text>
<line x1="195.70000000000002" y1="283.59" x2="197.9" y2="283.59" stroke="#b8b8b8" stroke-width="1"/>
<text x="194.30" y="287.89" font-size="10.1" text-anchor="end">300</text>
<line x1="197.9" y1="421.3" x2="319" y2="421.3" stroke="#cccccc" stroke-width="1.1"/>
<line x1="197.90" y1="421.5" x2="197.90" y2="423.5" stroke="#cccccc" stroke-width="1"/>
<line x1="228.18" y1="421.5" x2="228.18" y2="423.5" stroke="#cccccc" stroke-width="1"/>
<line x1="258.46" y1="421.5" x2="258.46" y2="423.5" stroke="#cccccc" stroke-width="1"/>
<line x1="288.74" y1="421.5" x2="288.74" y2="423.5" stroke="#cccccc" stroke-width="1"/>
<line x1="319.02" y1="421.5" x2="319.02" y2="423.5" stroke="#cccccc" stroke-width="1"/>
<text x="228.1" y="288.5" font-size="10">Caspase-Like</text>
<rect x="203.04" y="375.70" width="6.00" height="45.80" fill="#fff" stroke="#ababab" stroke-width="1"/>
<line x1="213.04" y1="401.00" x2="213.04" y2="398.40" stroke="#a6a6a6" stroke-width="1"/>
<line x1="211.14" y1="398.40" x2="214.94" y2="398.40" stroke="#a6a6a6" stroke-width="1"/>
<rect x="209.54" y="401.00" width="7.00" height="20.50" fill="#000"/>
<rect x="216.54" y="411.50" width="6.50" height="10.00" fill="url(#hatchB)" stroke="#ababab" stroke-width="1"/>
<text x="214.04" y="439.6" font-size="10" text-anchor="middle">WT</text>
<line x1="236.32" y1="339.40" x2="236.32" y2="323.70" stroke="#a6a6a6" stroke-width="1"/>
<line x1="234.42" y1="323.70" x2="238.22" y2="323.70" stroke="#a6a6a6" stroke-width="1"/>
<rect x="233.32" y="339.90" width="6.00" height="81.60" fill="#fff" stroke="#ababab" stroke-width="1"/>
<rect x="239.82" y="405.00" width="7.00" height="16.50" fill="#000"/>
<rect x="246.82" y="410.30" width="6.50" height="11.20" fill="url(#hatchB)" stroke="#ababab" stroke-width="1"/>
<text x="244.32" y="439.6" font-size="10" text-anchor="middle">BTZ</text>
<text x="244.32" y="452.4" font-size="10" text-anchor="middle">30</text>
<line x1="266.60" y1="331.00" x2="266.60" y2="308.70" stroke="#a6a6a6" stroke-width="1"/>
<line x1="264.70" y1="308.70" x2="268.50" y2="308.70" stroke="#a6a6a6" stroke-width="1"/>
<rect x="263.60" y="331.50" width="6.00" height="90.00" fill="#fff" stroke="#ababab" stroke-width="1"/>
<rect x="270.10" y="407.00" width="7.00" height="14.50" fill="#000"/>
<rect x="277.10" y="409.00" width="6.50" height="12.50" fill="url(#hatchB)" stroke="#ababab" stroke-width="1"/>
<text x="274.60" y="439.6" font-size="10" text-anchor="middle">BTZ</text>
<text x="274.60" y="452.4" font-size="10" text-anchor="middle">100</text>
<line x1="295.88" y1="316.30" x2="295.88" y2="297.30" stroke="#a6a6a6" stroke-width="1"/>
<line x1="293.98" y1="297.30" x2="297.78" y2="297.30" stroke="#a6a6a6" stroke-width="1"/>
<rect x="292.88" y="316.80" width="6.00" height="104.70" fill="#fff" stroke="#ababab" stroke-width="1"/>
<line x1="302.88" y1="408.30" x2="302.88" y2="404.90" stroke="#a6a6a6" stroke-width="1"/>
<line x1="300.98" y1="404.90" x2="304.78" y2="404.90" stroke="#a6a6a6" stroke-width="1"/>
<rect x="299.38" y="408.30" width="7.00" height="13.20" fill="#000"/>
<rect x="306.38" y="408.80" width="6.50" height="12.70" fill="url(#hatchB)" stroke="#ababab" stroke-width="1"/>
<text x="303.58" y="439.6" font-size="10" text-anchor="middle">BTZ</text>
<text x="303.58" y="451.2" font-size="10" text-anchor="middle">200</text>
<line x1="354.5" y1="282.79" x2="354.5" y2="421.5" stroke="#b8b8b8" stroke-width="1.3"/>
<line x1="352.1" y1="421.50" x2="354.3" y2="421.50" stroke="#b8b8b8" stroke-width="1"/>
<text x="350.70" y="425.80" font-size="10.1" text-anchor="end">0</text>
<line x1="352.1" y1="375.53" x2="354.3" y2="375.53" stroke="#b8b8b8" stroke-width="1"/>
<text x="350.70" y="379.83" font-size="10.1" text-anchor="end">100</text>
<line x1="352.1" y1="329.56" x2="354.3" y2="329.56" stroke="#b8b8b8" stroke-width="1"/>
<text x="350.70" y="333.86" font-size="10.1" text-anchor="end">200</text>
<line x1="352.1" y1="283.59" x2="354.3" y2="283.59" stroke="#b8b8b8" stroke-width="1"/>
<text x="350.70" y="287.89" font-size="10.1" text-anchor="end">300</text>
<line x1="354.3" y1="421.3" x2="484.1" y2="421.3" stroke="#cccccc" stroke-width="1.1"/>
<line x1="354.30" y1="421.5" x2="354.30" y2="423.5" stroke="#cccccc" stroke-width="1"/>
<line x1="386.75" y1="421.5" x2="386.75" y2="423.5" stroke="#cccccc" stroke-width="1"/>
<line x1="419.20" y1="421.5" x2="419.20" y2="423.5" stroke="#cccccc" stroke-width="1"/>
<line x1="451.65" y1="421.5" x2="451.65" y2="423.5" stroke="#cccccc" stroke-width="1"/>
<line x1="484.10" y1="421.5" x2="484.10" y2="423.5" stroke="#cccccc" stroke-width="1"/>
<text x="385.2" y="287.7" font-size="10">Trypsin-Like</text>
<rect x="359.93" y="375.50" width="6.40" height="46.00" fill="#fff" stroke="#ababab" stroke-width="1"/>
<line x1="370.52" y1="361.20" x2="370.52" y2="355.10" stroke="#a6a6a6" stroke-width="1"/>
<line x1="368.62" y1="355.10" x2="372.42" y2="355.10" stroke="#a6a6a6" stroke-width="1"/>
<rect x="366.82" y="361.20" width="7.40" height="60.30" fill="#000"/>
<rect x="374.23" y="414.80" width="6.90" height="6.70" fill="url(#hatchB)" stroke="#ababab" stroke-width="1"/>
<text x="372.03" y="437.3" font-size="10" text-anchor="middle">WT</text>
<line x1="395.57" y1="356.00" x2="395.57" y2="340.40" stroke="#a6a6a6" stroke-width="1"/>
<line x1="393.68" y1="340.40" x2="397.47" y2="340.40" stroke="#a6a6a6" stroke-width="1"/>
<rect x="392.38" y="356.50" width="6.40" height="65.00" fill="#fff" stroke="#ababab" stroke-width="1"/>
<line x1="402.97" y1="346.30" x2="402.97" y2="336.40" stroke="#a6a6a6" stroke-width="1"/>
<line x1="401.07" y1="336.40" x2="404.87" y2="336.40" stroke="#a6a6a6" stroke-width="1"/>
<rect x="399.27" y="346.30" width="7.40" height="75.20" fill="#000"/>
<rect x="406.68" y="411.40" width="6.90" height="10.10" fill="url(#hatchB)" stroke="#ababab" stroke-width="1"/>
<text x="404.98" y="437.3" font-size="10" text-anchor="middle">BTZ</text>
<text x="404.98" y="449.8" font-size="10" text-anchor="middle">30</text>
<line x1="428.02" y1="350.40" x2="428.02" y2="328.20" stroke="#a6a6a6" stroke-width="1"/>
<line x1="426.12" y1="328.20" x2="429.92" y2="328.20" stroke="#a6a6a6" stroke-width="1"/>
<rect x="424.82" y="350.90" width="6.40" height="70.60" fill="#fff" stroke="#ababab" stroke-width="1"/>
<line x1="435.42" y1="334.00" x2="435.42" y2="323.80" stroke="#a6a6a6" stroke-width="1"/>
<line x1="433.52" y1="323.80" x2="437.32" y2="323.80" stroke="#a6a6a6" stroke-width="1"/>
<rect x="431.72" y="334.00" width="7.40" height="87.50" fill="#000"/>
<rect x="439.12" y="412.00" width="6.90" height="9.50" fill="url(#hatchB)" stroke="#ababab" stroke-width="1"/>
<text x="437.43" y="437.3" font-size="10" text-anchor="middle">BTZ</text>
<text x="437.43" y="449.8" font-size="10" text-anchor="middle">100</text>
<line x1="460.47" y1="344.30" x2="460.47" y2="324.80" stroke="#a6a6a6" stroke-width="1"/>
<line x1="458.57" y1="324.80" x2="462.37" y2="324.80" stroke="#a6a6a6" stroke-width="1"/>
<rect x="457.27" y="344.80" width="6.40" height="76.70" fill="#fff" stroke="#ababab" stroke-width="1"/>
<line x1="467.87" y1="333.30" x2="467.87" y2="323.10" stroke="#a6a6a6" stroke-width="1"/>
<line x1="465.97" y1="323.10" x2="469.77" y2="323.10" stroke="#a6a6a6" stroke-width="1"/>
<rect x="464.17" y="333.30" width="7.40" height="88.20" fill="#000"/>
<rect x="471.57" y="410.20" width="6.90" height="11.30" fill="url(#hatchB)" stroke="#ababab" stroke-width="1"/>
<text x="468.38" y="437.3" font-size="10" text-anchor="middle">BTZ</text>
<text x="468.38" y="449.8" font-size="10" text-anchor="middle">200</text>
<rect x="458" y="270" width="9.8" height="9.8" fill="#fff" stroke="#111" stroke-width="1.6"/>
<rect x="457.2" y="289.2" width="11.3" height="11.2" fill="#000"/>
<rect x="458" y="308.9" width="9.8" height="9.8" fill="url(#hatchL)" stroke="#111" stroke-width="1.6"/>
<text x="469.2" y="278.1" font-size="10.3">Control</text>
<text x="469.2" y="297.5" font-size="10.3">Bortezomib</text>
<text x="469.2" y="316.3" font-size="10.3">Inhibitor</text>
<text x="0" y="483.8" font-size="17.6" font-weight="bold">C</text>
<rect x="64.7" y="486.5" width="171.8" height="111.29999999999995" fill="#f3f3f3"/>
<g clip-path="url(#boxclip)"><g filter="url(#blur)">
<rect x="62.70" y="486.5" width="33.50" height="111.29999999999995" fill="url(#lane0)"/>
<rect x="96.20" y="486.5" width="36.00" height="111.29999999999995" fill="url(#lane1)"/>
<rect x="132.20" y="486.5" width="34.20" height="111.29999999999995" fill="url(#lane2)"/>
<rect x="166.40" y="486.5" width="34.20" height="111.29999999999995" fill="url(#lane3)"/>
<rect x="200.60" y="486.5" width="37.90" height="111.29999999999995" fill="url(#lane4)"/>
<rect x="94.20" y="486.5" width="4" height="111.29999999999995" fill="#fff" opacity="0.14"/>
<rect x="130.20" y="486.5" width="4" height="111.29999999999995" fill="#fff" opacity="0.14"/>
<rect x="164.40" y="486.5" width="4" height="111.29999999999995" fill="#fff" opacity="0.14"/>
<rect x="198.60" y="486.5" width="4" height="111.29999999999995" fill="#fff" opacity="0.14"/>
</g></g>
<circle cx="149.6" cy="492.7" r="0.7" fill="#666"/>
<circle cx="148.8" cy="507.4" r="0.7" fill="#888"/>
<circle cx="231.7" cy="506.9" r="0.7" fill="#444"/>
<circle cx="115.5" cy="574.5" r="0.8" fill="#333"/>
<circle cx="90.5" cy="553.5" r="0.7" fill="#555"/>
<circle cx="158.6" cy="540.3" r="0.6" fill="#222"/>
<circle cx="171.4" cy="576.2" r="0.8" fill="#222"/>
<circle cx="91" cy="525.7" r="0.5" fill="#999"/>
<rect x="64.7" y="486.5" width="171.8" height="111.29999999999995" fill="none" stroke="#000" stroke-width="2"/>
<line x1="28.5" y1="514.4" x2="64.7" y2="514.4" stroke="#111" stroke-width="1.5"/>
<line x1="28.5" y1="541.2" x2="64.7" y2="541.2" stroke="#111" stroke-width="1.5"/>
<line x1="28.5" y1="564" x2="64.7" y2="568.3" stroke="#111" stroke-width="1.5"/>
<line x1="28.5" y1="576" x2="64.7" y2="576" stroke="#111" stroke-width="1.5"/>
<line x1="28.5" y1="595.2" x2="64.7" y2="583.8" stroke="#111" stroke-width="1.5"/>
<text x="17" y="518.6" font-size="7" fill="#444">β2</text>
<text x="17" y="545.8" font-size="7" fill="#444">β2i</text>
<text x="17.9" y="568.8" font-size="7" fill="#444">β1</text>
<text x="17.9" y="584.2" font-size="7" fill="#444">β5/5i</text>
<text x="17.9" y="604.2" font-size="7" fill="#444">β1i</text>
<text transform="translate(87.30,606.50) rotate(-49)" font-size="10.2" text-anchor="end">WT</text>
<text transform="translate(118.00,604.20) rotate(-49)" font-size="10.2" text-anchor="end">BTZ 30</text>
<text transform="translate(155.90,604.70) rotate(-49)" font-size="10.2" text-anchor="end">BTZ 50</text>
<text transform="translate(189.50,604.70) rotate(-49)" font-size="10.2" text-anchor="end">BTZ 100</text>
<text transform="translate(225.20,605.70) rotate(-49)" font-size="10.2" text-anchor="end">BTZ&#160;&#160;-100</text>
</svg></body></html>
